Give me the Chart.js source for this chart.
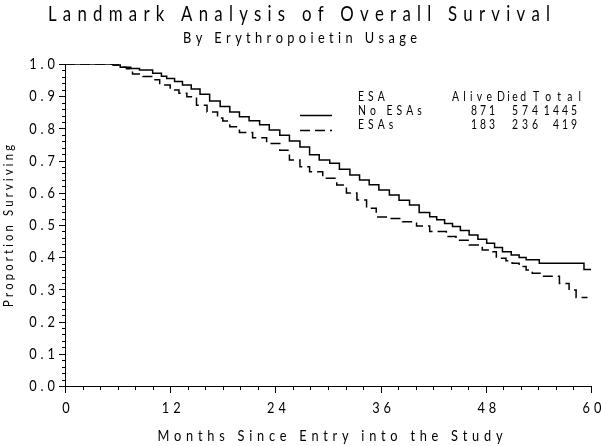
<!DOCTYPE html>
<html lang="en">
<head>
  <meta charset="UTF-8">
  <title>Landmark Analysis of Overall Survival</title>
  <script src="https://cdn.jsdelivr.net/npm/chart.js"></script>
  <style>
    body { margin: 0; background: #fff; }
  </style>
</head>
<body>
<canvas id="myChart" width="601" height="446"></canvas>
<script>
// Kaplan-Meier steps (months, proportion surviving)
const noEsaMonths = [0, 5.5, 6.3, 7.5, 8.5, 10.0, 11.0, 11.6, 12.5, 13.4, 14.4, 15.4, 16.5, 17.7, 18.8, 19.9, 21.0, 22.2, 23.3, 24.5, 25.6, 26.8, 27.9, 29.0, 30.2, 31.3, 32.5, 33.6, 34.7, 35.8, 37.0, 38.1, 39.3, 40.4, 41.6, 42.4, 43.3, 44.2, 45.1, 46.1, 47.1, 48.1, 49.0, 49.9, 50.9, 51.8, 52.6, 54.1, 59.2, 60];
const noEsaSurv = [1.0, 0.997, 0.990, 0.986, 0.981, 0.971, 0.962, 0.955, 0.946, 0.935, 0.922, 0.906, 0.885, 0.868, 0.851, 0.836, 0.824, 0.811, 0.795, 0.779, 0.761, 0.742, 0.718, 0.702, 0.692, 0.673, 0.655, 0.640, 0.625, 0.609, 0.593, 0.577, 0.562, 0.539, 0.526, 0.516, 0.505, 0.495, 0.483, 0.469, 0.456, 0.443, 0.430, 0.417, 0.407, 0.399, 0.392, 0.381, 0.362, 0.362];

const esaMonths = [0, 5.5, 6.3, 7.0, 7.7, 8.9, 10.0, 10.8, 12.0, 13.0, 13.9, 15.0, 16.2, 17.4, 18.0, 18.8, 19.9, 21.4, 23.0, 24.5, 25.6, 26.8, 27.9, 29.4, 31.0, 32.1, 33.3, 34.4, 35.5, 37.0, 38.5, 40.1, 41.6, 43.5, 44.6, 46.1, 47.6, 48.7, 49.2, 50.3, 51.0, 51.8, 52.6, 53.3, 54.4, 56.4, 57.5, 58.3, 59.6];
const esaSurv = [1.0, 0.997, 0.990, 0.985, 0.969, 0.961, 0.951, 0.935, 0.919, 0.909, 0.898, 0.872, 0.851, 0.832, 0.823, 0.805, 0.787, 0.771, 0.753, 0.732, 0.702, 0.681, 0.665, 0.645, 0.624, 0.599, 0.578, 0.552, 0.525, 0.520, 0.510, 0.497, 0.480, 0.464, 0.453, 0.438, 0.422, 0.417, 0.397, 0.389, 0.381, 0.371, 0.360, 0.350, 0.341, 0.318, 0.298, 0.275, 0.275];

// legend table
const groups = ['No ESAs', 'ESAs'];
const alive = [871, 183];
const died = [574, 236];
const total = [1445, 419];

const FONT = 'Lato, "DejaVu Sans", sans-serif';

// draw text one (slightly squeezed) character at a time, SAS-style spacing
function drawSpaced(ctx, text, x, y, opt) {
  const sx = opt.sx || 0.8;
  const chars = text.split('');
  const widths = chars.map(c => ctx.measureText(c).width * sx);
  const sum = widths.reduce((a, b) => a + b, 0);
  const gap = opt.width != null ? (opt.width - sum) / (chars.length - 1) : opt.gap;
  const full = sum + gap * (chars.length - 1);
  let cur = x;
  if (opt.align === 'center') cur = x - full / 2;
  else if (opt.align === 'right') cur = x - full;
  ctx.textAlign = 'left';
  ctx.textBaseline = 'middle';
  chars.forEach((c, i) => {
    ctx.save();
    ctx.translate(cur, y);
    ctx.scale(sx, 1);
    ctx.fillText(c, 0, 0);
    ctx.restore();
    cur += widths[i] + gap;
  });
}

const isMajorX = v => Math.round(v) % 12 === 0;
const isMajorY = v => Math.round(v * 100) % 10 === 0;

const sasPlugin = {
  id: 'sas',
  afterDraw(chart) {
    const ctx = chart.ctx;
    const xs = chart.scales.x, ys = chart.scales.y;
    ctx.save();
    ctx.fillStyle = '#000';
    ctx.strokeStyle = '#000';
    ctx.lineWidth = 1;

    // tick marks, long on labelled values, short in between
    ctx.beginPath();
    xs.ticks.forEach(t => {
      const px = Math.round(xs.getPixelForValue(t.value)) + 0.5;
      const len = isMajorX(t.value) ? 7 : 4;
      ctx.moveTo(px, xs.top);
      ctx.lineTo(px, xs.top + len);
    });
    ys.ticks.forEach(t => {
      const py = Math.round(ys.getPixelForValue(t.value)) + 0.5;
      const len = isMajorY(t.value) ? 6 : 3;
      ctx.moveTo(ys.right, py);
      ctx.lineTo(ys.right - len, py);
    });
    ctx.stroke();

    // tick labels
    ctx.font = '16px ' + FONT;
    xs.ticks.forEach(t => {
      if (!isMajorX(t.value)) return;
      drawSpaced(ctx, String(Math.round(t.value)), xs.getPixelForValue(t.value) + 1, 408, {gap: 4, align: 'center'});
    });
    ys.ticks.forEach(t => {
      if (!isMajorY(t.value)) return;
      drawSpaced(ctx, t.value.toFixed(1), 55, ys.getPixelForValue(t.value), {gap: 4, align: 'right'});
    });

    // titles
    ctx.font = '21px ' + FONT;
    drawSpaced(ctx, 'Landmark Analysis of Overall Survival', 299, 14, {width: 502, align: 'center'});
    ctx.font = '16px ' + FONT;
    drawSpaced(ctx, 'By Erythropoietin Usage', 300, 38, {width: 234, align: 'center'});
    drawSpaced(ctx, 'Months Since Entry into the Study', 330, 436, {width: 345, align: 'center'});

    ctx.save();
    ctx.translate(8, 226);
    ctx.rotate(-Math.PI / 2);
    ctx.font = '14px ' + FONT;
    drawSpaced(ctx, 'Proportion Surviving', 0, 0, {width: 162, align: 'center'});
    ctx.restore();

    // legend table
    ctx.font = '13px ' + FONT;
    drawSpaced(ctx, 'ESA', 358, 97, {gap: 4, align: 'left'});
    drawSpaced(ctx, 'Alive', 452, 97, {width: 40, align: 'left'});
    drawSpaced(ctx, 'Died', 497, 97, {width: 29, align: 'left'});
    drawSpaced(ctx, 'Total', 533, 97, {width: 48, align: 'left'});
    const rowY = [111, 124.5];
    const lineY = [115.5, 130.5];
    chart.data.datasets.forEach((ds, i) => {
      drawSpaced(ctx, groups[i], 358, rowY[i], {gap: 4, align: 'left'});
      drawSpaced(ctx, String(alive[i]), 495, rowY[i], {gap: 3, align: 'right'});
      drawSpaced(ctx, String(died[i]), 538, rowY[i], {gap: 4, align: 'right'});
      drawSpaced(ctx, String(total[i]), 577, rowY[i], {gap: 3, align: 'right'});
      ctx.save();
      ctx.lineWidth = ds.borderWidth;
      ctx.setLineDash(ds.borderDash || []);
      ctx.beginPath();
      ctx.moveTo(300, lineY[i]);
      ctx.lineTo(332, lineY[i]);
      ctx.stroke();
      ctx.restore();
    });
    ctx.restore();
  }
};

const data = {
  datasets: [{
    label: groups[0],
    data: noEsaMonths.map((m, i) => ({x: m, y: noEsaSurv[i]})),
    borderColor: '#000',
    borderWidth: 1.5,
    stepped: true,
    pointRadius: 0,
    fill: false
  }, {
    label: groups[1],
    data: esaMonths.map((m, i) => ({x: m, y: esaSurv[i]})),
    borderColor: '#000',
    borderWidth: 1.5,
    borderDash: [10, 5],
    stepped: true,
    pointRadius: 0,
    fill: false
  }]
};

const config = {
  type: 'line',
  data: data,
  plugins: [sasPlugin],
  options: {
    responsive: false,
    animation: false,
    events: [],
    layout: { padding: { top: 64, right: 10, bottom: 0, left: 0 } },
    plugins: { legend: { display: false }, title: { display: false }, tooltip: { enabled: false } },
    scales: {
      x: {
        type: 'linear',
        min: 0, max: 60,
        afterFit: s => { s.height = 60; s.paddingLeft = 0; s.paddingRight = 0; },
        grid: { display: true, drawOnChartArea: false, drawTicks: false },
        border: { display: true, color: '#000', width: 1 },
        ticks: { stepSize: 2, autoSkip: false, maxRotation: 0, display: false }
      },
      y: {
        min: 0, max: 1,
        afterFit: s => { s.width = 65; s.paddingTop = 0; s.paddingBottom = 0; },
        grid: { display: true, drawOnChartArea: false, drawTicks: false },
        border: { display: true, color: '#000', width: 1 },
        ticks: { stepSize: 0.02, autoSkip: false, display: false }
      }
    }
  }
};

const myChart = new Chart(document.getElementById('myChart'), config);
</script>
</body>
</html>
